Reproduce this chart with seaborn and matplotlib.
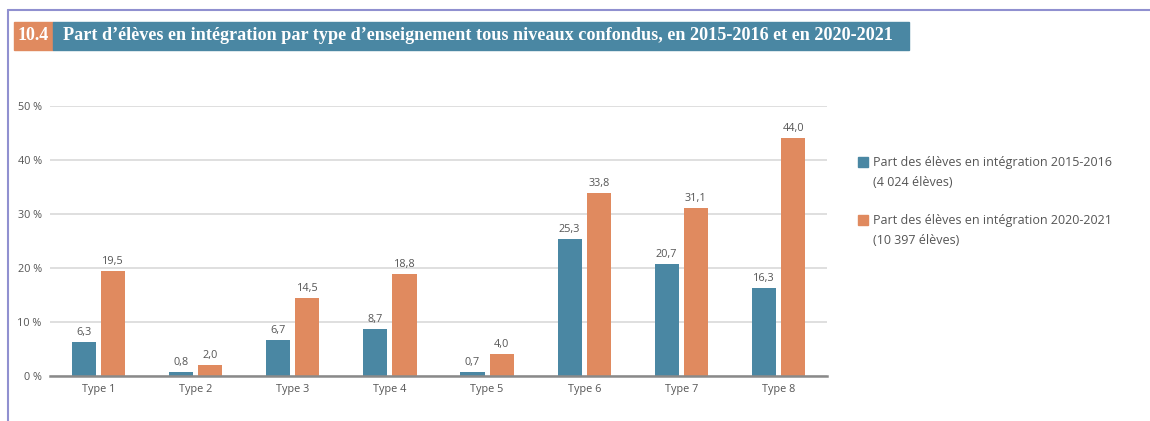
import pandas as pd
import matplotlib.pyplot as plt
import seaborn as sns
from matplotlib.patches import Rectangle
from matplotlib.lines import Line2D

# Data
types = ['Type 1', 'Type 2', 'Type 3', 'Type 4', 'Type 5', 'Type 6', 'Type 7', 'Type 8']
share_2015 = [6.3, 0.8, 6.7, 8.7, 0.7, 25.3, 20.7, 16.3]
share_2020 = [19.5, 2.0, 14.5, 18.8, 4.0, 33.8, 31.1, 44.0]
series = ['Part des élèves en intégration 2015-2016\n(4 024 élèves)',
          'Part des élèves en intégration 2020-2021\n(10 397 élèves)']
y_ticks = [0, 10, 20, 30, 40, 50]
title = "Part d’élèves en intégration par type d’enseignement tous niveaux confondus, en 2015-2016 et en 2020-2021"
title_num = '10.4'

teal = '#4a87a3'
orange = '#e08a5f'
palette = [teal, orange]

df = pd.DataFrame({
    'type': types * 2,
    'value': share_2015 + share_2020,
    'serie': [series[0]] * len(types) + [series[1]] * len(types),
})

sns.set_style('white')
plt.rcParams['font.family'] = ['Open Sans', 'DejaVu Sans']

fig = plt.figure(figsize=(11.5, 4.21), dpi=100)
ax = fig.add_axes([50 / 1150, 1 - 376 / 421, 777 / 1150, 270 / 421])

sns.barplot(data=df, x='type', y='value', hue='serie', palette=palette,
            width=0.6, gap=0.17, saturation=1, linewidth=0, ax=ax, legend=False)

for c in ax.containers:
    labels = [f'{v:.1f}'.replace('.', ',') for v in c.datavalues]
    ax.bar_label(c, labels=labels, padding=3, fontsize=7.8, color='#555555')

ax.set_xlim(-0.5, 7.5)
ax.set_ylim(0, 50)
ax.set_yticks(y_ticks)
ax.set_yticklabels([f'{t} %' for t in y_ticks], fontsize=7.8, color='#555555')
ax.tick_params(axis='x', labelsize=7.8, labelcolor='#555555', length=0, pad=6)
ax.tick_params(axis='y', length=0, pad=6)
ax.set_xlabel('')
ax.set_ylabel('')
ax.grid(axis='y', color='#d9d9d9', linewidth=1.2)
ax.set_axisbelow(True)
for s in ['top', 'right', 'left']:
    ax.spines[s].set_visible(False)
ax.spines['bottom'].set_color('#8a8a8a')
ax.spines['bottom'].set_linewidth(1.8)

# legend, drawn by hand so the square sits on the first line
for i, (lab, col) in enumerate(zip(series, palette)):
    yc = 1 - (162 + 58 * i) / 421
    fig.add_artist(Rectangle((858 / 1150, yc - 5 / 421), 10 / 1150, 10 / 421,
                             transform=fig.transFigure, color=col))
    fig.text(873 / 1150, yc + 6 / 421, lab, fontsize=9, color='#555555',
             ha='left', va='top', linespacing=1.75)

# frame lines
fig.add_artist(Line2D([8 / 1150, 8 / 1150], [0, 1 - 10 / 421], transform=fig.transFigure,
                      color='#9090d0', linewidth=1.5))
fig.add_artist(Line2D([8 / 1150, 1], [1 - 10 / 421, 1 - 10 / 421], transform=fig.transFigure,
                      color='#9090d0', linewidth=1.5))

# title band
fig.add_artist(Rectangle((14 / 1150, 1 - 50 / 421), 39 / 1150, 28 / 421,
                         transform=fig.transFigure, color=orange))
fig.add_artist(Rectangle((53 / 1150, 1 - 50 / 421), 856 / 1150, 28 / 421,
                         transform=fig.transFigure, color=teal))
fig.text(33.5 / 1150, 1 - 36 / 421, title_num, color='white', fontsize=13,
         fontweight='bold', ha='center', va='center', family=['Liberation Serif'])
fig.text(63 / 1150, 1 - 36 / 421, title, color='white', fontsize=13.1,
         fontweight='bold', ha='left', va='center', family=['Liberation Serif'])

fig.savefig('out.png', dpi=100)
